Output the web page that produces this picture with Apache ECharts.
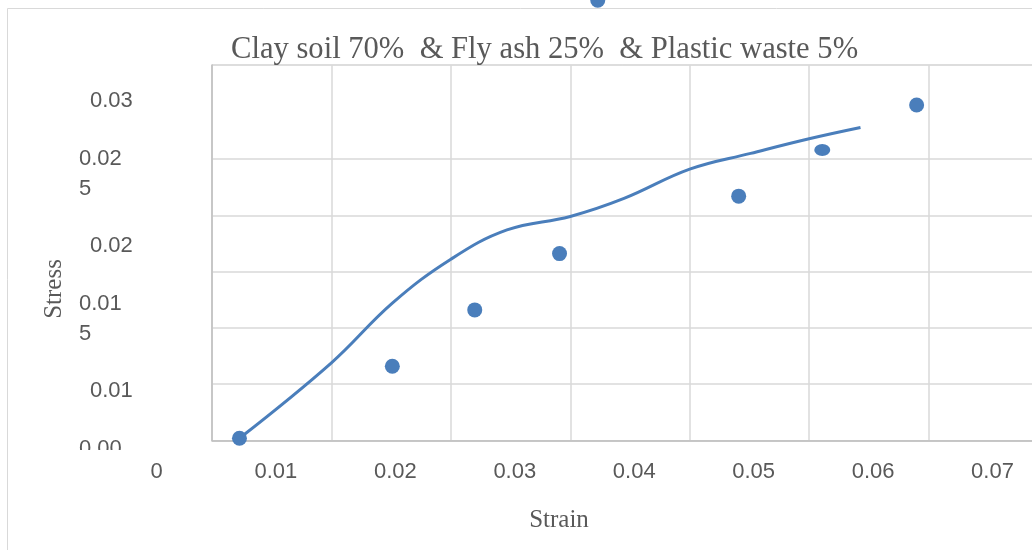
<!DOCTYPE html>
<html>
<head>
<meta charset="utf-8">
<script src="https://cdn.jsdelivr.net/npm/echarts@6/dist/echarts.min.js"></script>
<style>
html,body{margin:0;padding:0;background:#fff;}
#chart{width:1032px;height:550px;}
</style>
</head>
<body>
<div id="chart"></div>
<script>
// ---- data ----
const titleText = 'Clay soil 70%  & Fly ash 25%  & Plastic waste 5%';
const xAxisName = 'Strain';
const yAxisName = 'Stress';
// measured points (scatter)
const pointStrain = [0.0023, 0.0151, 0.0220, 0.0291, 0.0441, 0.0511, 0.0590, 0.0323];
const pointStress = [0.0002, 0.0066, 0.0116, 0.0166, 0.0217, 0.0258, 0.0298, 0.0391];
// fitted curve
const curveStrain = [0.0023, 0.0100, 0.0151, 0.0200, 0.0247, 0.0300, 0.0345, 0.0400, 0.0451, 0.0500, 0.0543];
const curveStress = [0.0002, 0.0069, 0.0122, 0.0161, 0.0187, 0.0199, 0.0215, 0.0241, 0.0255, 0.0268, 0.0278];
// tick labels
const xTickLabels = ['0', '0.01', '0.02', '0.03', '0.04', '0.05', '0.06', '0.07'];
const yTickValues = [0.005, 0.01, 0.015, 0.02, 0.025, 0.03];
const yTickLabels = ['0.00\n5', '0.01', '0.01\n5', '0.02', '0.02\n5', '0.03'];

const blue = '#4a7ebb';
const labelColor = '#595959';
const sans = '"Liberation Sans", Arial, sans-serif';
const serif = '"Liberation Serif", "Times New Roman", serif';

const scatterData = pointStrain.map((x, i) => {
  const d = { value: [x, pointStress[i]] };
  if (i === 5) d.symbolSize = [16, 12];
  return d;
});
const curveData = curveStrain.map((x, i) => [x, curveStress[i]]);

const chart = echarts.init(document.getElementById('chart'), null, { renderer: 'canvas' });
chart.setOption({
  animation: false,
  backgroundColor: '#fff',
  title: {
    text: titleText,
    left: 231,
    top: 34,
    padding: 0,
    textStyle: { fontFamily: serif, fontSize: 30.6, fontWeight: 'normal', color: labelColor }
  },
  graphic: [
    {
      type: 'rect', z: -10,
      shape: { x: 7.5, y: 8.5, width: 1200, height: 800 },
      style: { fill: 'none', stroke: '#d9d9d9', lineWidth: 1 }
    },
    {
      type: 'rect', z: 100,
      shape: { x: 60, y: 450, width: 85, height: 45 },
      style: { fill: '#fff' }
    }
  ],
  grid: [
    { left: 212, width: 836, top: 65, height: 375.5, show: true, borderColor: '#d9d9d9', borderWidth: 1, containLabel: false, outerBoundsMode: 'none' },
    { left: 212, width: 836, top: 28.4, height: 508.2, show: false, containLabel: false, outerBoundsMode: 'none' }
  ],
  xAxis: [
    {
      type: 'value', gridIndex: 0, min: 0, max: 0.07, interval: 0.01,
      axisLine: { show: true, lineStyle: { color: '#bfbfbf', width: 1.5 } },
      axisTick: { show: false },
      splitLine: { show: true, lineStyle: { color: '#d9d9d9', width: 1.5 } },
      axisLabel: {
        margin: 20, color: labelColor, fontFamily: sans, fontSize: 22,
        padding: [0, 111, 0, 0],
        formatter: v => xTickLabels[Math.round(v / 0.01)] || ''
      },
      name: xAxisName, nameLocation: 'middle', nameGap: 67,
      nameTextStyle: { fontFamily: serif, fontSize: 25, color: labelColor, padding: [0, 142, 0, 0] },
      nameMoveOverlap: false
    },
    {
      type: 'value', gridIndex: 1, min: 0, max: 0.07, show: false
    }
  ],
  yAxis: [
    {
      type: 'value', gridIndex: 0, min: 0, max: 0.03335, interval: 0.005,
      axisLine: { show: true, lineStyle: { color: '#bfbfbf', width: 1.5 } },
      axisTick: { show: false },
      axisLabel: { show: false },
      splitLine: {
        show: true,
        lineStyle: { width: 1.5, color: ['#d9d9d9', '#d9d9d9', '#d9d9d9', '#d9d9d9', '#d9d9d9', '#d9d9d9', 'rgba(0,0,0,0)', '#d9d9d9'] }
      }
    },
    {
      type: 'value', gridIndex: 1, min: 0, max: 0.035, interval: 0.005,
      axisLine: { show: false }, axisTick: { show: false }, splitLine: { show: false },
      axisLabel: {
        show: true, margin: 133, align: 'left',
        formatter: function (v) {
          const idx = yTickValues.findIndex(t => Math.abs(t - v) < 1e-9);
          if (idx < 0) return '';
          const parts = yTickLabels[idx].split('\n');
          if (parts.length === 1) return '{s|' + parts[0] + '}';
          return parts.map(p => '{w|' + p + '}').join('\n');
        },
        rich: {
          s: { fontFamily: sans, fontSize: 22, color: labelColor, padding: [0, 0, 0, 11], lineHeight: 30 },
          w: { fontFamily: sans, fontSize: 22, color: labelColor, lineHeight: 30 }
        }
      },
      name: yAxisName, nameLocation: 'middle', nameGap: 145,
      nameTextStyle: { fontFamily: serif, fontSize: 25, color: labelColor, padding: [0, 13, 0, 0] }
    }
  ],
  series: [
    {
      type: 'line', xAxisIndex: 0, yAxisIndex: 0,
      data: curveData, smooth: 0.4,
      showSymbol: false, symbol: 'none',
      lineStyle: { color: blue, width: 3 },
      clip: false, z: 3
    },
    {
      type: 'scatter', xAxisIndex: 0, yAxisIndex: 0,
      data: scatterData, symbol: 'circle', symbolSize: 15,
      itemStyle: { color: blue, opacity: 1 },
      clip: false, z: 4
    }
  ]
});
</script>
</body>
</html>
